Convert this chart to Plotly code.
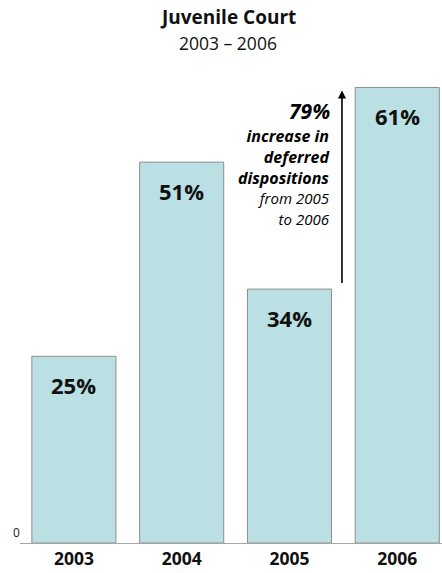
import plotly.graph_objects as go

years = ["2003", "2004", "2005", "2006"]
shares = [25, 51, 34, 61]
bar_labels = ["25%", "51%", "34%", "61%"]

title = "Juvenile Court"
subtitle = "2003 \u2013 2006"
note_head = "79%"
note_bold = ["increase in", "deferred", "dispositions"]
note_plain = ["from 2005", "to 2006"]

FONT = "'Open Sans', sans-serif"
Y_TOP = 62

W, H = 442, 573
ML, MR, MT, MB = 20, 0, 80, 30
pw, ph = W - ML - MR, H - MT - MB


def px_x(px):
    return (px - ML) / pw


def px_y(py):
    return 1 - (py - MT) / ph


fig = go.Figure()
fig.add_trace(go.Bar(
    x=list(range(len(years))),
    y=shares,
    marker=dict(color="#BAE0E3", line=dict(color="#8E8E8E", width=1)),
    textposition="none",
    hoverinfo="skip",
))

# percentage labels just inside the top of each bar
for i, (v, lab) in enumerate(zip(shares, bar_labels)):
    fig.add_annotation(x=i, y=v, text=f"<b>{lab}</b>", showarrow=False,
                       yanchor="middle", yshift=-29,
                       font=dict(family=FONT, size=22, color="#111111"))

# arrow from the 2005 level up to the 2006 level
fig.add_annotation(x=2.487, y=shares[3] - 0.4, ax=2.487, ay=shares[2] + 0.6,
                   xref="x", yref="y", axref="x", ayref="y",
                   showarrow=True, arrowhead=2, arrowsize=1, arrowwidth=1.6,
                   arrowcolor="#000000", text="")

# right-aligned note beside the arrow
fig.add_annotation(x=px_x(332), y=px_y(111), xref="paper", yref="paper",
                   text=f"<b><i>{note_head}</i></b>", showarrow=False,
                   xanchor="right", yanchor="middle",
                   font=dict(family=FONT, size=21, color="#000000"))
body = "<br>".join(
    [f"<b><i>{t}</i></b>" for t in note_bold]
    + [f"<i><span style='font-size:15px'>{t}</span></i>" for t in note_plain]
)
fig.add_annotation(x=px_x(332), y=px_y(177), xref="paper", yref="paper",
                   text=body, showarrow=False, align="right",
                   xanchor="right", yanchor="middle",
                   font=dict(family=FONT, size=16, color="#000000"))

# zero label on the value axis
fig.add_annotation(x=0, y=0, xref="paper", yref="y", text="0", showarrow=False,
                   xanchor="right", yanchor="middle", xshift=2, yshift=11,
                   font=dict(family=FONT, size=12, color="#222222"))

# title block
fig.add_annotation(x=px_x(228), y=px_y(17), xref="paper", yref="paper",
                   text=f"<b>{title}</b>", showarrow=False, yanchor="middle",
                   font=dict(family=FONT, size=19, color="#111111"))
fig.add_annotation(x=px_x(228), y=px_y(43), xref="paper", yref="paper",
                   text=subtitle, showarrow=False, yanchor="middle",
                   font=dict(family=FONT, size=17.5, color="#111111"))

fig.update_layout(
    width=W, height=H,
    margin=dict(l=ML, r=MR, t=MT, b=MB),
    paper_bgcolor="white", plot_bgcolor="white",
    showlegend=False, bargap=0.22,
    xaxis=dict(range=[-0.5, 3.415], tickmode="array",
               tickvals=list(range(len(years))),
               ticktext=[f"<b>{y}</b>" for y in years],
               tickfont=dict(family=FONT, size=17.5, color="#111111"),
               showline=True, linecolor="#A6A6A6", linewidth=1,
               ticks="", showgrid=False, zeroline=False, fixedrange=True),
    yaxis=dict(range=[0, Y_TOP], showticklabels=False, showgrid=False,
               zeroline=False, showline=False, ticks="", fixedrange=True),
)

fig.write_html("out.html")
